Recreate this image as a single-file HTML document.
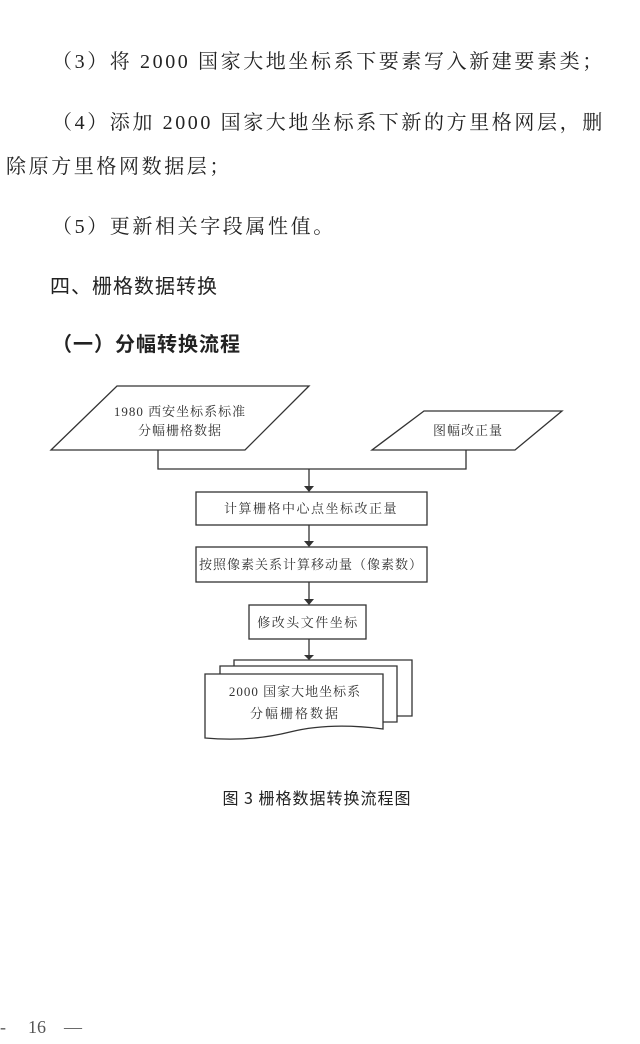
<!DOCTYPE html>
<html><head><meta charset="utf-8"><style>
body{margin:0;width:640px;height:1044px;background:#fff;position:relative;overflow:hidden;font-family:"Liberation Serif","Noto Serif CJK SC","Noto Sans CJK SC",serif;color:#222}
.t{position:absolute;white-space:nowrap;font-size:20px;letter-spacing:2.6px;line-height:24px}
</style></head><body>
<div class="t" style="left:52px;top:50px">（3）将 2000 国家大地坐标系下要素写入新建要素类；</div>
<div class="t" style="left:52px;top:111px">（4）添加 2000 国家大地坐标系下新的方里格网层，删</div>
<div class="t" style="left:6px;top:155px">除原方里格网数据层；</div>
<div class="t" style="left:52px;top:215px">（5）更新相关字段属性值。</div>
<div class="t" style="left:50px;top:273px;font-family:'Noto Sans CJK SC',sans-serif;letter-spacing:1px">四、栅格数据转换</div>
<div class="t" style="left:52px;top:331px;font-family:'Noto Sans CJK SC',sans-serif;font-weight:bold;letter-spacing:1px">（一）分幅转换流程</div>
<svg width="640" height="1044" style="position:absolute;left:0;top:0" font-family="Liberation Serif,Noto Serif CJK SC,serif" font-size="12" fill="#333">
<g fill="none" stroke="#333" stroke-width="1.3">
<polygon points="117,386 309,386 245,450 51,450"/>
<polygon points="424,411 562,411 515,450 372,450"/>
<polyline points="158,450 158,469 466,469 466,450"/>
<line x1="309" y1="469" x2="309" y2="486"/>
<rect x="196" y="492" width="231" height="33"/>
<line x1="309" y1="525" x2="309" y2="541"/>
<rect x="196" y="547" width="231" height="35"/>
<line x1="309" y1="582" x2="309" y2="599"/>
<rect x="249" y="605" width="117" height="34"/>
<line x1="309" y1="639" x2="309" y2="655"/>
<polyline points="234,666 234,660 412,660 412,716 397,716" fill="#fff"/>
<polyline points="220,674 220,666 397,666 397,722 383,722" fill="#fff"/>
<path d="M205,674 L383,674 L383,729 Q330,722 290,732 Q250,742 205,738 Z" fill="#fff"/>
</g>
<g fill="#333">
<polygon points="304,486 314,486 309,492"/>
<polygon points="304,541 314,541 309,547"/>
<polygon points="304,599 314,599 309,605"/>
<polygon points="304,655 314,655 309,660"/>
</g>
<text x="180" y="416" text-anchor="middle" letter-spacing="1" font-size="13">1980 西安坐标系标准</text>
<text x="180" y="435" text-anchor="middle" letter-spacing="1" font-size="13">分幅栅格数据</text>
<text x="468" y="435" text-anchor="middle" letter-spacing="1" font-size="13">图幅改正量</text>
<text x="311" y="513" text-anchor="middle" letter-spacing="1.5" font-size="13">计算栅格中心点坐标改正量</text>
<text x="311" y="569" text-anchor="middle" letter-spacing="1" font-size="13">按照像素关系计算移动量（像素数）</text>
<text x="308" y="627" text-anchor="middle" letter-spacing="1.5" font-size="13">修改头文件坐标</text>
<text x="295" y="696" text-anchor="middle" letter-spacing="1" font-size="13">2000 国家大地坐标系</text>
<text x="295" y="718" text-anchor="middle" letter-spacing="2" font-size="13">分幅栅格数据</text>
<text x="317" y="804" text-anchor="middle" font-size="16" letter-spacing="1" font-family="Noto Sans CJK SC,sans-serif" fill="#222">图 3  栅格数据转换流程图</text>
<text x="0" y="1033" font-size="18" fill="#555">-</text>
<text x="28" y="1033" font-size="18" fill="#555">16</text>
<text x="64" y="1033" font-size="18" fill="#555">—</text>
</svg>
</body></html>
